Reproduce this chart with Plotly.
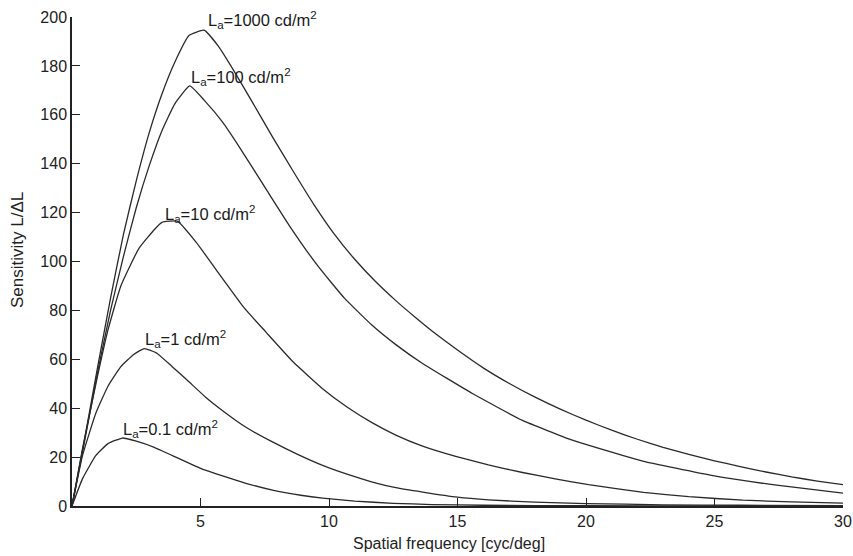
import plotly.graph_objects as go

# Spatial frequency samples [cyc/deg] and sensitivity L/dL for each adaptation luminance
x_1000 = [0, 0.5, 1.0, 1.5, 2.0, 2.5, 3.0, 3.5, 4.0, 4.56, 5.14, 5.7, 6.3, 7.0, 7.8, 8.6, 9.4,
          10.2, 11.0, 11.8, 12.6, 13.4, 14.2, 15, 16, 17, 18, 19, 20, 21, 22, 23, 24, 25, 26,
          27, 28, 29, 30]
y_1000 = [0, 28, 57, 85, 111, 133, 152.5, 168.5, 181.5, 192.5, 194.6, 188, 178, 165.5, 151, 137,
          123.5, 111.3, 100.9, 91.9, 84.0, 76.8, 70, 63.8, 56.5, 50.2, 44.6, 39.6, 35.1, 31.0, 27.3,
          24.0, 21.1, 18.5, 16.1, 13.9, 11.9, 10.2, 8.7]

x_100 = [0, 0.5, 1.0, 1.5, 2.0, 2.5, 3.0, 3.5, 4.0, 4.58, 5.14, 5.86, 6.5, 7.54, 8.5, 9.55, 10.6,
         11.69, 12.6, 13.64, 15.58, 17.53, 19.47, 21.42, 22.24, 24.83, 27.42, 30]
y_100 = [0, 27, 55, 80, 102, 122, 139, 153.5, 164.5, 171.8, 166, 157, 147, 129.8, 114, 98.4, 85,
         73.8, 66, 58.3, 46, 35, 26.9, 20.7, 18.3, 12.6, 8.5, 5.3]

x_10 = [0, 0.41, 0.93, 1.4, 1.9, 2.6, 3.2, 3.5, 4.1, 4.82, 5.86, 6.7, 7.54, 8.6, 9.75, 10.7, 11.69,
        12.6, 13.64, 14.93, 16.2, 17.53, 18.8, 20.1, 22.24, 24, 26.1, 28, 30]
y_10 = [0, 23.5, 50, 72, 90, 105.3, 113, 116, 116.5, 108, 93, 81, 71.2, 59, 48, 40.5, 34,
        29.0, 24.5, 20.3, 16.8, 13.7, 11.1, 8.7, 5.6, 3.8, 2.4, 1.7, 1.2]

x_1 = [0, 0.41, 0.93, 1.4, 1.9, 2.4, 2.81, 3.3, 3.9, 4.56, 5.2, 5.86, 6.8, 7.8, 8.8, 9.75, 10.7,
       11.69, 12.6, 13.64, 15, 16.2, 18, 20, 23, 26, 30]
y_1 = [0, 20.7, 38, 49, 57, 62, 64.4, 62.5, 57, 50.7, 44.5, 39, 32, 26.2, 21, 16.6, 13,
       9.8, 7.5, 5.7, 3.6, 2.5, 1.6, 1.0, 0.5, 0.3, 0.1]

x_01 = [0, 0.41, 0.93, 1.4, 1.96, 2.5, 3.2, 3.91, 5.0, 5.86, 6.8, 7.8, 8.9, 9.75, 11, 12.5, 14,
        16, 20, 25, 30]
y_01 = [0, 11.2, 20.7, 25.5, 27.8, 26.5, 24, 20.6, 15.4, 12.3, 9.2, 6.5, 4.4, 3.2, 2.0, 1.1, 0.6,
        0.3, 0.1, 0.05, 0]

series = [
    ("L_a=1000", x_1000, y_1000),
    ("L_a=100", x_100, y_100),
    ("L_a=10", x_10, y_10),
    ("L_a=1", x_1, y_1),
    ("L_a=0.1", x_01, y_01),
]

labels = [
    "L<sub>a</sub>=1000 cd/m<sup>2</sup>",
    "L<sub>a</sub>=100 cd/m<sup>2</sup>",
    "L<sub>a</sub>=10 cd/m<sup>2</sup>",
    "L<sub>a</sub>=1 cd/m<sup>2</sup>",
    "L<sub>a</sub>=0.1 cd/m<sup>2</sup>",
]
label_x = [5.2, 4.54, 3.54, 2.75, 1.89]
label_y = [198.6, 175.3, 119.6, 68.5, 31.4]

x_ticks = [5, 10, 15, 20, 25, 30]
y_ticks = [0, 20, 40, 60, 80, 100, 120, 140, 160, 180, 200]

FONT = "Liberation Sans, Arial, Helvetica, sans-serif"
W, H = 853, 556
ML, MR, MT, MB = 72, 10, 17, 50

fig = go.Figure()
for name, xs, ys in series:
    fig.add_trace(go.Scatter(x=xs, y=ys, mode="lines", name=name,
                             line=dict(color="#2a2a2a", width=1.3, shape="spline", smoothing=0.4),
                             showlegend=False))

for t, lx, ly in zip(labels, label_x, label_y):
    fig.add_annotation(x=lx, y=ly, text=t, showarrow=False, xanchor="left", yanchor="middle",
                       font=dict(family=FONT, size=16.5, color="#1a1a1a"))

# axis titles placed as paper annotations
pw, ph = W - ML - MR, H - MT - MB
fig.add_annotation(xref="paper", yref="paper", x=(449 - ML) / pw, y=(H - MB - 543) / ph,
                   text="Spatial frequency [cyc/deg]", showarrow=False,
                   xanchor="center", yanchor="middle", font=dict(family=FONT, size=16, color="#222"))
fig.add_annotation(xref="paper", yref="paper", x=(18 - ML) / pw, y=(H - MB - 250) / ph,
                   text="Sensitivity L/\u0394L", showarrow=False, textangle=-90,
                   xanchor="center", yanchor="middle", font=dict(family=FONT, size=17, color="#222"))

fig.update_layout(
    width=W, height=H,
    margin=dict(l=ML, r=MR, t=MT, b=MB),
    paper_bgcolor="white", plot_bgcolor="white",
    font=dict(family=FONT, size=16, color="#222222"),
)
fig.update_xaxes(
    range=[0, 30], tickvals=x_ticks, ticks="inside", ticklen=8, tickwidth=1.3, tickcolor="#222",
    showline=True, linecolor="#222", linewidth=1.5, showgrid=False, zeroline=False,
    automargin=False, tickfont=dict(size=16),
)
fig.update_yaxes(
    range=[0, 200], tickvals=y_ticks, ticks="inside", ticklen=8, tickwidth=1.3, tickcolor="#222",
    showline=True, linecolor="#222", linewidth=1.5, showgrid=False, zeroline=False,
    automargin=False, tickfont=dict(size=16),
)

fig.write_html("out.html")
